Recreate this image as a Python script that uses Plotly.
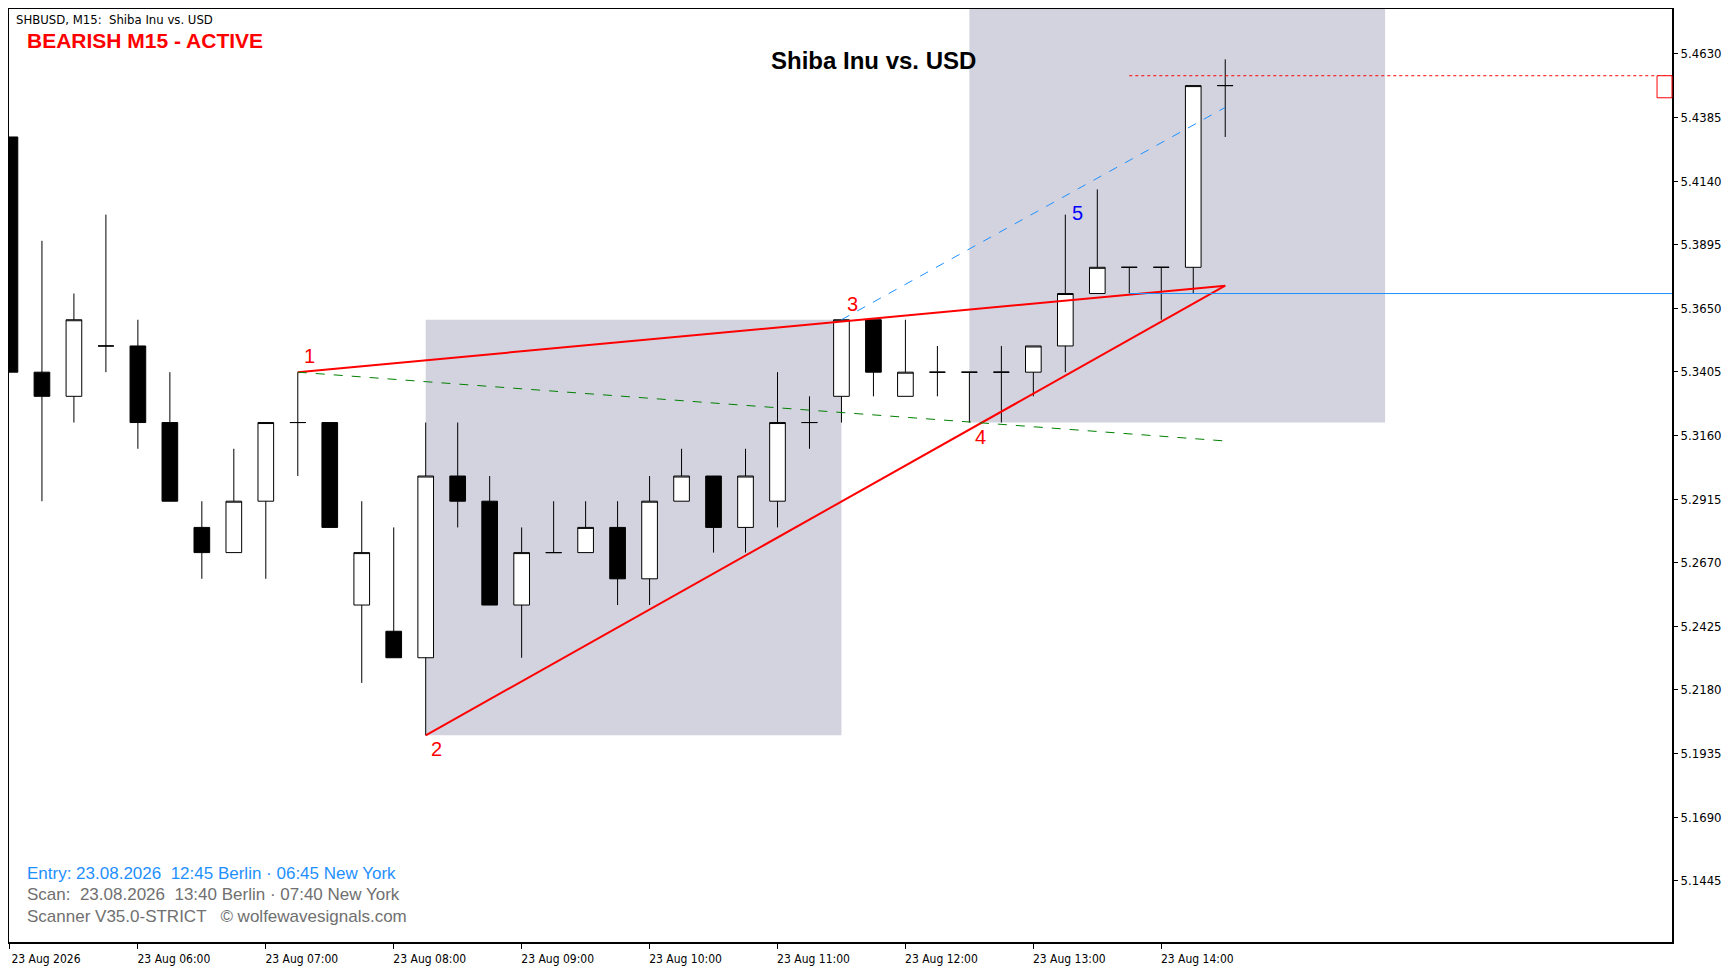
import plotly.graph_objects as go
from datetime import datetime, timedelta

# candle data, M15 bars starting 23 Aug 2026 05:00
base = datetime(2026, 8, 23, 5, 0)
step = timedelta(minutes=15)
opens = [5.4310, 5.3404, 5.3311, 5.3505, 5.3505, 5.3210, 5.2806, 5.2709, 5.2907, 5.3210,
         5.3210, 5.2507, 5.2406, 5.2304, 5.3004, 5.2907, 5.2507, 5.2709, 5.2709, 5.2806,
         5.2608, 5.2907, 5.3004, 5.2806, 5.2907, 5.3210, 5.3311, 5.3606, 5.3311, 5.3404,
         5.3404, 5.3404, 5.3404, 5.3505, 5.3707, 5.3808, 5.3808, 5.3808, 5.4508]
closes = [5.3404, 5.3311, 5.3606, 5.3505, 5.3210, 5.2907, 5.2709, 5.2907, 5.3210, 5.3210,
          5.2806, 5.2709, 5.2304, 5.3004, 5.2907, 5.2507, 5.2709, 5.2709, 5.2806, 5.2608,
          5.2907, 5.3004, 5.2806, 5.3004, 5.3210, 5.3210, 5.3606, 5.3404, 5.3404, 5.3404,
          5.3404, 5.3404, 5.3505, 5.3707, 5.3808, 5.3808, 5.3808, 5.4508, 5.4508]
highs = [5.4310, 5.3910, 5.3707, 5.4011, 5.3606, 5.3404, 5.2907, 5.3109, 5.3210, 5.3404,
         5.3210, 5.2907, 5.2806, 5.3210, 5.3210, 5.3004, 5.2806, 5.2907, 5.2907, 5.2907,
         5.3004, 5.3109, 5.3004, 5.3109, 5.3404, 5.3311, 5.3606, 5.3606, 5.3606, 5.3505,
         5.3404, 5.3505, 5.3505, 5.4011, 5.4108, 5.3808, 5.3808, 5.4508, 5.4609]
lows = [5.3404, 5.2907, 5.3210, 5.3404, 5.3109, 5.2907, 5.2608, 5.2709, 5.2608, 5.3004,
        5.2806, 5.2207, 5.2304, 5.2005, 5.2806, 5.2507, 5.2304, 5.2709, 5.2709, 5.2507,
        5.2507, 5.2907, 5.2709, 5.2709, 5.2806, 5.3109, 5.3210, 5.3311, 5.3311, 5.3311,
        5.3210, 5.3210, 5.3311, 5.3404, 5.3707, 5.3707, 5.3606, 5.3707, 5.4310]
times = [base + i * step for i in range(len(opens))]

# wolfe wave points 1..4 and apex
wave_idx = [9, 13, 26, 30, 38]
wave_px = [5.3404, 5.2005, 5.3606, 5.3210, 5.3737]
target_15_end = 5.4424   # blue dashed 3 -> target
green_end = 5.3139       # green dashed from 1
entry_level = 5.3707
stop_level = 5.4546
label5_idx, label5_px = 33, 5.4016

zone1 = (13, 26, 5.2005, 5.3606)
zone2 = (30, 43, 5.3210, 5.4803)

y_ticks = [5.1445, 5.1690, 5.1935, 5.2180, 5.2425, 5.2670, 5.2915, 5.3160,
           5.3405, 5.3650, 5.3895, 5.4140, 5.4385, 5.4630]
x_tick_idx = [0, 4, 8, 12, 16, 20, 24, 28, 32, 36]
x_tick_text = ["23 Aug 2026", "23 Aug 06:00", "23 Aug 07:00", "23 Aug 08:00", "23 Aug 09:00",
               "23 Aug 10:00", "23 Aug 11:00", "23 Aug 12:00", "23 Aug 13:00", "23 Aug 14:00"]


def t(i):
    return base + i * step


fig = go.Figure()
shapes = [
    dict(type="rect", xref="x", yref="y", x0=t(zone1[0]), x1=t(zone1[1]),
         y0=zone1[2], y1=zone1[3], fillcolor="#d3d3e0", line_width=0, layer="below"),
    dict(type="rect", xref="x", yref="y", x0=t(zone2[0]), x1=t(zone2[1]),
         y0=zone2[2], y1=zone2[3], fillcolor="#d3d3e0", line_width=0, layer="below"),
    dict(type="rect", xref="paper", yref="y", x0=0.991, x1=1.0,
         y0=stop_level - 0.0085, y1=stop_level, fillcolor="white",
         line=dict(color="red", width=1)),
]

fig.add_trace(go.Candlestick(
    x=times, open=opens, high=highs, low=lows, close=closes,
    increasing=dict(fillcolor="white", line=dict(color="black", width=1)),
    decreasing=dict(fillcolor="black", line=dict(color="black", width=1)),
    whiskerwidth=0, showlegend=False, hoverinfo="skip"))

# wave lines
fig.add_trace(go.Scatter(x=[t(wave_idx[0]), t(wave_idx[4])], y=[wave_px[0], wave_px[4]],
                         mode="lines", line=dict(color="red", width=2), showlegend=False))
fig.add_trace(go.Scatter(x=[t(wave_idx[1]), t(wave_idx[4])], y=[wave_px[1], wave_px[4]],
                         mode="lines", line=dict(color="red", width=2), showlegend=False))
fig.add_trace(go.Scatter(x=[t(wave_idx[2]), t(wave_idx[4])], y=[wave_px[2], target_15_end],
                         mode="lines", line=dict(color="#1e90ff", width=1, dash="dash"), showlegend=False))
fig.add_trace(go.Scatter(x=[t(wave_idx[0]), t(wave_idx[4])], y=[wave_px[0], green_end],
                         mode="lines", line=dict(color="green", width=1, dash="dash"), showlegend=False))
fig.add_trace(go.Scatter(x=[t(35), t(52)], y=[entry_level, entry_level],
                         mode="lines", line=dict(color="#1e90ff", width=1), showlegend=False))
fig.add_trace(go.Scatter(x=[t(35), t(52)], y=[stop_level, stop_level],
                         mode="lines", line=dict(color="red", width=1, dash="dot"), showlegend=False))

anns = []
lab_off = [(12, -16), (11, 14), (11, -16), (11, 14)]
for k in range(4):
    anns.append(dict(x=t(wave_idx[k]), y=wave_px[k], xref="x", yref="y", text=str(k + 1),
                     showarrow=False, xshift=lab_off[k][0], yshift=-lab_off[k][1],
                     font=dict(color="red", size=20, family="Liberation Sans")))
anns.append(dict(x=t(label5_idx), y=label5_px, xref="x", yref="y", text="5", showarrow=False,
                 xshift=12, font=dict(color="blue", size=20, family="Liberation Sans")))

anns += [
    dict(x=0.003, y=0.999, xref="paper", yref="paper", xanchor="left", yanchor="top", showarrow=False,
         text="SHBUSD, M15:  Shiba Inu vs. USD", font=dict(size=13, color="black", family="DejaVu Sans Condensed")),
    dict(x=0.0096, y=0.966, xref="paper", yref="paper", xanchor="left", yanchor="middle", showarrow=False,
         text="<b>BEARISH M15 - ACTIVE</b>", font=dict(size=21, color="red", family="Liberation Sans")),
    dict(x=0.52, y=0.945, xref="paper", yref="paper", xanchor="center", yanchor="middle", showarrow=False,
         text="<b>Shiba Inu vs. USD</b>", font=dict(size=24, color="black", family="Liberation Sans")),
    dict(x=0.0096, y=0.073, xref="paper", yref="paper", xanchor="left", yanchor="middle", showarrow=False,
         text="Entry: 23.08.2026  12:45 Berlin · 06:45 New York", font=dict(size=17, color="#1e90ff", family="Liberation Sans")),
    dict(x=0.0096, y=0.0506, xref="paper", yref="paper", xanchor="left", yanchor="middle", showarrow=False,
         text="Scan:  23.08.2026  13:40 Berlin · 07:40 New York", font=dict(size=17, color="#707070", family="Liberation Sans")),
    dict(x=0.0096, y=0.027, xref="paper", yref="paper", xanchor="left", yanchor="middle", showarrow=False,
         text="Scanner V35.0-STRICT   © wolfewavesignals.com", font=dict(size=17, color="#707070", family="Liberation Sans")),
]

fig.update_layout(
    width=1718, height=958, paper_bgcolor="white", plot_bgcolor="white",
    margin=dict(l=1, r=54, t=1, b=24, autoexpand=False),
    shapes=shapes, annotations=anns, showlegend=False,
    xaxis=dict(type="date", range=[t(-0.03), t(51.97)], rangeslider=dict(visible=False),
               tickvals=[t(i) for i in x_tick_idx], ticktext=x_tick_text,
               ticks="outside", ticklen=5, tickcolor="black", ticklabelshift=36,
               showgrid=False, zeroline=False, showline=True, linecolor="black", linewidth=2, mirror=True,
               tickfont=dict(size=12, color="black", family="DejaVu Sans Condensed")),
    yaxis=dict(range=[5.1209, 5.4803], side="right", tickvals=y_ticks,
               ticktext=["%.4f" % v for v in y_ticks], ticks="outside", ticklen=4, tickcolor="black",
               showgrid=False, zeroline=False, showline=True, linecolor="black", linewidth=2, mirror=True,
               tickfont=dict(size=13, color="black", family="DejaVu Sans Condensed")),
)

fig.write_html("out.html")
